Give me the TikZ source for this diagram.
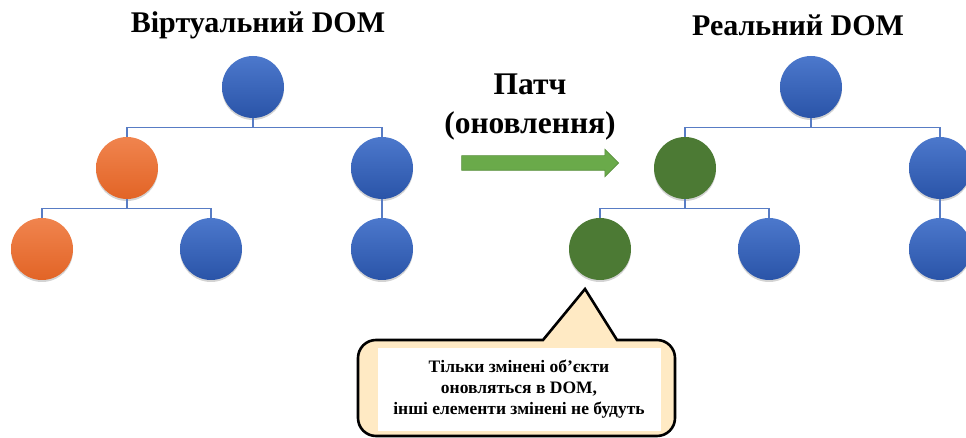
\documentclass[tikz,border=0pt]{standalone}
\usepackage{fontspec}
\setmainfont{Liberation Serif}
\usetikzlibrary{shapes,shapes.arrows,shadows,calc}

\definecolor{domBlueT}{RGB}{76,120,204}
\definecolor{domBlueB}{RGB}{42,84,168}
\definecolor{domOrangeT}{RGB}{240,132,78}
\definecolor{domOrangeB}{RGB}{226,100,38}
\definecolor{domGreen}{RGB}{76,122,52}
\definecolor{linkBlue}{RGB}{88,124,196}
\definecolor{patchGreen}{RGB}{106,170,74}
\definecolor{noteYellow}{RGB}{255,234,196}

\begin{document}
\begin{tikzpicture}
  [x=1pt,y=-1pt,
   domN/.style={circle,minimum size=62pt,inner sep=0pt,
     drop shadow={shadow xshift=0pt,shadow yshift=-2pt,opacity=0.35}},
   blueN/.style={domN,top color=domBlueT,bottom color=domBlueB},
   orangeN/.style={domN,top color=domOrangeT,bottom color=domOrangeB},
   greenN/.style={domN,fill=domGreen},
   link/.style={draw=linkBlue,line width=1.2pt},
   titleT/.style={font=\bfseries\fontsize{30}{39}\selectfont,align=center},
   noteT/.style={font=\bfseries\fontsize{17.5}{21}\selectfont,align=center},
  ]

 \useasboundingbox (0,0) rectangle (966,438);

 % titles
 \node[titleT] (vTitle) at (258,25) {Віртуальний DOM};
 \node[titleT] (rTitle) at (798,25) {Реальний DOM};

 % virtual tree
 \node[blueN]   (vRoot) at (253,87)  {};
 \node[orangeN] (vA)    at (127,168) {};
 \node[blueN]   (vB)    at (382,168) {};
 \node[orangeN] (vA1)   at (42,249)  {};
 \node[blueN]   (vA2)   at (211,249) {};
 \node[blueN]   (vB1)   at (382,249) {};

 % real tree
 \node[blueN]  (rRoot) at (811,87)  {};
 \node[greenN] (rA)    at (685,168) {};
 \node[blueN]  (rB)    at (940,168) {};
 \node[greenN] (rA1)   at (600,249) {};
 \node[blueN]  (rA2)   at (769,249) {};
 \node[blueN]  (rB1)   at (940,249) {};

 \foreach \t in {v,r}{
   \draw[link] (\t Root.south) -- ++(0,9) -| (\t A.north);
   \draw[link] (\t Root.south) -- ++(0,9) -| (\t B.north);
   \draw[link] (\t A.south) -- ++(0,9) -| (\t A1.north);
   \draw[link] (\t A.south) -- ++(0,9) -| (\t A2.north);
   \draw[link] (\t B.south) -- (\t B1.north);
 }

 % patch arrow
 \node[titleT,font=\bfseries\fontsize{31.5}{39}\selectfont]
   (patchT) at (530,107) {Патч\\(оновлення)};
 \node[single arrow,minimum height=157pt,inner sep=0pt,
   text height=14pt,text depth=0pt,text width=0pt,
   single arrow head extend=6.5pt,fill=patchGreen,draw=patchGreen!85!black,
   line width=0.6pt] (patch) at (536.5,163) {};

 % callout
 \coordinate (tip) at (585,289);
 \draw[line width=2.6pt,fill=noteYellow]
   (tip) -- (543,340) [rounded corners=18pt] -- (358,340) -- (358,436)
   -- (675,436) -- (675,340) [sharp corners] -- (617,340) -- cycle;
 \node[noteT,fill=white,minimum width=283pt,minimum height=83pt]
   (note) at (519,389.5)
   {Тільки змінені об’єкти\\оновляться в DOM,\\інші елементи змінені не будуть};
\end{tikzpicture}
\end{document}
